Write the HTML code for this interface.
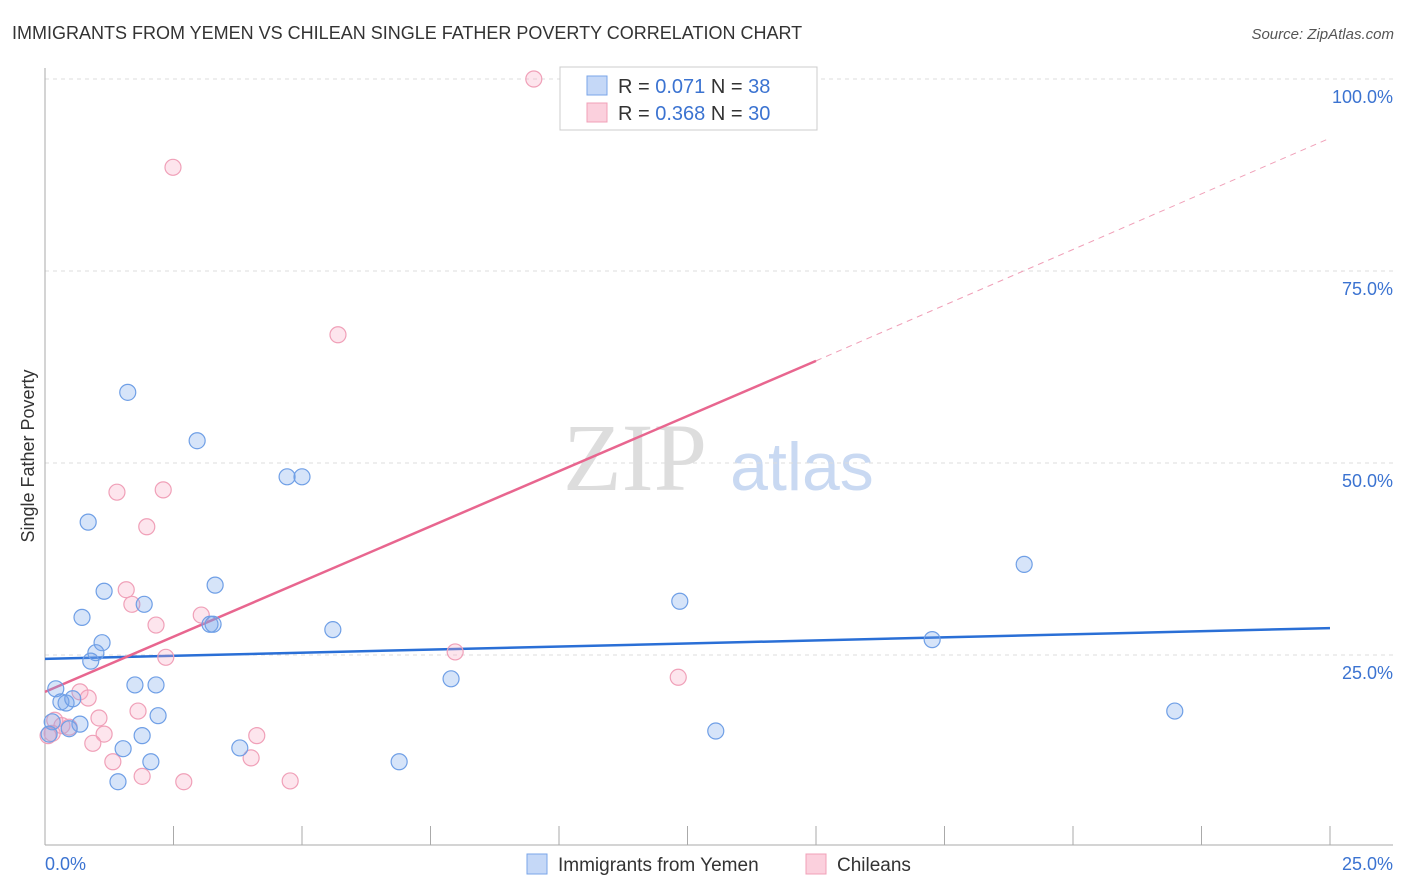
<!DOCTYPE html>
<html><head><meta charset="utf-8"><style>
body{margin:0;background:#fff;font-family:"Liberation Sans",sans-serif;}
svg{display:block}
</style></head><body>
<svg id="chart" width="1406" height="892">
<text x="12" y="39" font-size="18" fill="#333">IMMIGRANTS FROM YEMEN VS CHILEAN SINGLE FATHER POVERTY CORRELATION CHART</text>
<text x="1394" y="39" font-size="15" fill="#555" font-style="italic" text-anchor="end">Source: ZipAtlas.com</text>
<text x="34" y="456" font-size="18" fill="#333" transform="rotate(-90 34 456)" text-anchor="middle">Single Father Poverty</text>
<g>
<text x="635" y="490" font-size="96" font-family="Liberation Serif,serif" fill="#ddd" text-anchor="middle">ZIP</text>
<text x="802" y="490" font-size="68" fill="#c9d9f2" text-anchor="middle">atlas</text>
</g>
<g id="grid"></g>
<g id="axes"></g>
<g id="lines"></g>
<g id="points"></g>
<g>
<rect x="560" y="67" width="257" height="63" fill="#fff" stroke="#ccc"/>
<rect x="587" y="76" width="20" height="19" fill="#c5d8f7" stroke="#7aa6e8"/>
<text x="618" y="93" font-size="20" fill="#333">R = <tspan fill="#3b73d1">0.071</tspan>   N = <tspan fill="#3b73d1">38</tspan></text>
<rect x="587" y="103" width="20" height="19" fill="#fbd0dd" stroke="#f0a0b8"/>
<text x="618" y="120" font-size="20" fill="#333">R = <tspan fill="#3b73d1">0.368</tspan>   N = <tspan fill="#3b73d1">30</tspan></text>
</g>
<g>
<rect x="527" y="854" width="20" height="20" fill="#c5d8f7" stroke="#7aa6e8"/>
<text x="558" y="871" font-size="19" fill="#333">Immigrants from Yemen</text>
<rect x="806" y="854" width="20" height="20" fill="#fbd0dd" stroke="#f0a0b8"/>
<text x="837" y="871" font-size="19" fill="#333">Chileans</text>
</g>
</svg>
<script>
const blueX=[1.61,2.96,0.84,4.71,5.00,1.15,3.31,0.72,1.93,3.21,3.27,5.60,1.11,0.99,0.89,0.21,1.75,2.16,0.31,0.41,0.54,0.68,0.47,0.14,0.08,2.20,1.89,1.52,3.79,2.06,1.42,6.89,7.90,12.35,13.05,17.26,19.05,21.98];
const blueY=[59.2,52.9,42.3,48.2,48.2,33.3,34.1,29.9,31.6,29.0,29.0,28.3,26.6,25.3,24.2,20.6,21.1,21.1,18.9,18.75,19.3,16.0,15.4,16.3,14.7,17.1,14.5,12.8,12.9,11.1,8.5,11.1,21.9,32.0,15.1,27.0,36.8,17.7];
const pinkX=[9.51,2.49,5.70,1.40,2.30,1.98,1.58,1.69,3.04,2.16,2.35,7.98,12.32,0.68,0.84,1.81,1.05,0.19,0.33,0.47,1.15,0.93,4.12,4.01,1.32,1.89,2.70,4.77,0.14,0.06];
const pinkY=[100,88.5,66.7,46.2,46.5,41.7,33.5,31.6,30.2,28.9,24.7,25.4,22.1,20.2,19.4,17.7,16.8,16.5,15.8,15.6,14.7,13.5,14.5,11.6,11.1,9.2,8.5,8.6,14.8,14.5];
const yTicks=[25,50,75,100];
const yTickLabels=["25.0%","50.0%","75.0%","100.0%"];
const blueTrend=[[0,24.5],[25,28.5]];
const pinkTrend=[[0,20.2],[15,63.3],[25,92.3]];
const NS="http://www.w3.org/2000/svg";
const sx=v=>45+v*51.4, sy=v=>847-v*7.68;
function mk(tag,attrs,parent){const e=document.createElementNS(NS,tag);for(const k in attrs)e.setAttribute(k,attrs[k]);parent.appendChild(e);return e;}
const grid=document.getElementById('grid'),axes=document.getElementById('axes'),lines=document.getElementById('lines'),pts=document.getElementById('points');
yTicks.forEach((t,i)=>{
 const l=mk('line',{x1:45,x2:1393,y1:sy(t),y2:sy(t),stroke:'#ddd','stroke-dasharray':'4,4'},grid);
 
 
 const tx=mk('text',{x:1393,y:sy(t)+24,'font-size':18,fill:'#3b73d1','text-anchor':'end'},axes);
 tx.textContent=yTickLabels[i];
 
 
});
const ax=mk('line',{x1:45,x2:1393,y1:845,y2:845,stroke:'#aaa'},axes);


const ay=mk('line',{x1:45,x2:45,y1:68,y2:845,stroke:'#aaa'},axes);


for(let i=0;i<=10;i++){
 const t=mk('line',{x1:sx(i*2.5),x2:sx(i*2.5),y1:826,y2:845,stroke:'#aaa'},axes);
 
 
}
const xl0=mk('text',{x:45,y:870,'font-size':18,fill:'#3b73d1'},axes);xl0.textContent='0.0%';


const xl1=mk('text',{x:1393,y:870,'font-size':18,fill:'#3b73d1','text-anchor':'end'},axes);xl1.textContent='25.0%';


const bl=mk('line',{x1:sx(blueTrend[0][0]),y1:sy(blueTrend[0][1]),x2:sx(blueTrend[1][0]),y2:sy(blueTrend[1][1]),stroke:'#2a6fd6','stroke-width':2.5},lines);


const pl=mk('line',{x1:sx(pinkTrend[0][0]),y1:sy(pinkTrend[0][1]),x2:sx(pinkTrend[1][0]),y2:sy(pinkTrend[1][1]),stroke:'#e8668f','stroke-width':2.5},lines);


const pd=mk('line',{x1:sx(pinkTrend[1][0]),y1:sy(pinkTrend[1][1]),x2:sx(pinkTrend[2][0]),y2:sy(pinkTrend[2][1]),stroke:'#f0a0b8','stroke-width':1,'stroke-dasharray':'6,5'},lines);


pinkX.forEach((x,i)=>{
 const c=mk('circle',{cx:sx(x),cy:sy(pinkY[i]),r:8,fill:'rgba(248,170,195,0.3)',stroke:'#f0a0b8','stroke-width':1.2},pts);
 
 
});
blueX.forEach((x,i)=>{
 const c=mk('circle',{cx:sx(x),cy:sy(blueY[i]),r:8,fill:'rgba(120,165,235,0.3)',stroke:'#6f9fe6','stroke-width':1.2},pts);
 
 
});
</script>
</body></html>
